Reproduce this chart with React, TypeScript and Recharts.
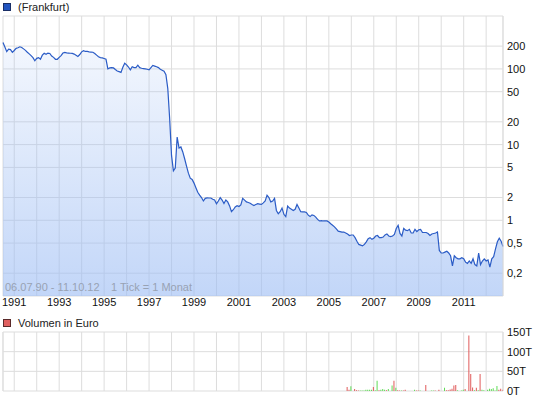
import React from 'react';
import { ComposedChart, Area, Bar, Cell, XAxis, YAxis, CartesianGrid, ReferenceLine } from 'recharts';

// Monthly closing prices (Frankfurt), July 1990 .. October 2012
const prices: number[] = [
  224, 195, 169, 182, 180, 166, 175, 187, 190, 196, 192, 184,
  176, 166, 158, 150, 141, 128, 138, 141, 134, 152, 161, 156,
  162, 160, 148, 142, 134, 134, 142, 150, 162, 165, 163, 162,
  161, 160, 157, 152, 146, 155, 168, 174, 170, 170, 168, 167,
  166, 160, 152, 145, 141, 140, 137, 134, 100, 103, 104, 103,
  98, 94, 92, 90, 105, 119, 113, 106, 97, 107, 104, 104,
  112, 104, 102, 101, 100, 99, 97, 104, 111, 109, 107, 104,
  99, 96, 93, 84, 55, 22, 7.2, 4.5, 4.9, 12.6, 9, 9.3,
  8, 6.5, 5.2, 4.2, 3.6, 3.46, 3.1, 2.7, 2.35, 2.15, 2.0, 1.8,
  1.95, 1.98, 1.97, 1.97, 1.9, 1.85, 1.65, 1.8, 1.99, 1.85, 1.67, 1.85,
  1.75, 1.55, 1.3, 1.38, 1.5, 1.56, 1.52, 1.6, 1.95, 1.85, 1.75, 1.72,
  1.68, 1.62, 1.57, 1.62, 1.66, 1.64, 1.62, 1.7, 1.8, 2.15, 2.0, 1.75,
  1.8, 1.95, 1.35, 1.22, 1.3, 1.45, 1.2, 1.12, 1.54, 1.45, 1.4, 1.35,
  1.4, 1.62, 1.45, 1.3, 1.29, 1.29, 1.27, 1.17, 1.12, 1.18, 1.16, 1.1,
  1.03, 0.98, 0.99, 0.98, 0.98, 0.98, 0.95, 0.9, 0.86, 0.82, 0.77, 0.72,
  0.71, 0.7, 0.7, 0.68, 0.66, 0.63, 0.64, 0.64, 0.59, 0.53, 0.48, 0.47,
  0.46, 0.48, 0.52, 0.57, 0.59, 0.56, 0.58, 0.62, 0.63, 0.59, 0.59, 0.6,
  0.64, 0.66, 0.62, 0.61, 0.62, 0.65, 0.78, 0.86, 0.67, 0.62, 0.78, 0.74,
  0.73, 0.76, 0.68, 0.68, 0.76, 0.71, 0.75, 0.76, 0.69, 0.69, 0.69, 0.67,
  0.63, 0.66, 0.67, 0.68, 0.7, 0.4, 0.37, 0.37, 0.38, 0.39, 0.37, 0.34,
  0.25, 0.34, 0.32, 0.31, 0.31, 0.32, 0.31, 0.28, 0.27, 0.29, 0.27, 0.31,
  0.26, 0.25, 0.37, 0.26, 0.29, 0.31, 0.29, 0.3, 0.24, 0.31, 0.33, 0.42,
  0.52, 0.58, 0.53, 0.45,
];

const startYear = 1990;
const startMonth = 7;

// Volume (thousand euro), monthly, starting at month index volumeStart
const volumeStart = 184;
const volumes: number[] = [
  10, 3, 12, 0, 5, 2, 1, 1, 1, 1, 3, 3, 3, 3, 10, 2, 26, 2, 3, 5, 3, 2, 5, 0,
  14, 26, 8, 2, 1, 1, 1, 3, 0, 0, 0, 0, 3, 1, 1, 1, 0, 0, 15, 0, 0, 1, 1, 1,
  0, 3, 0, 0, 8, 2, 2, 4, 6, 14, 15, 2, 0, 1, 3, 5, 0, 141, 43, 9, 2, 8, 2, 43,
  3, 2, 0, 3, 6, 5, 7, 1, 13, 3, 6, 3,
];
// R = price down (red), G = price up (green)
const volumeDir = 'RRG-RRRGGGGGGGRGGRGGGRG-GRGRRGRR----GRRG--R--GGR-R--GRRRRRRG-GGR-RRRGRGRGG-GGGGGGRRR';

const gridYears: number[] = [
  1991, 1992, 1993, 1994, 1995, 1996, 1997, 1998, 1999, 2000, 2001,
  2002, 2003, 2004, 2005, 2006, 2007, 2008, 2009, 2010, 2011, 2012,
];
const labeledYears: number[] = [1991, 1993, 1995, 1997, 1999, 2001, 2003, 2005, 2007, 2009, 2011];

const priceTicks: number[] = [0.2, 0.5, 1, 2, 5, 10, 20, 50, 100, 200];
const volumeTicks: number[] = [0, 50, 100, 150];

const legendPrice = '(Frankfurt)';
const legendVolume = 'Volumen in Euro';
const rangeText = '06.07.90 - 11.10.12';
const tickText = '1 Tick = 1 Monat';

const monthIndex = (year: number) => (year - startYear) * 12 + (1 - startMonth);
const xTicks = gridYears.map(monthIndex);
const lastIndex = prices.length - 1;

const priceData = prices.map((p, i) => ({ t: i, price: p }));
const volumeData = volumes.map((v, k) => ({ t: volumeStart + k, vol: v, dir: volumeDir[k] }));

const FONT = '"Liberation Sans", Arial, sans-serif';
const GRID = '#dddddd';

const xTickFormatter = (v: number) => {
  const year = gridYears[xTicks.indexOf(v)];
  return labeledYears.includes(year) ? String(year) : '';
};

export default function App() {
  return (
    <div style={{ position: 'absolute', left: 0, top: 0, width: 545, height: 401, background: '#fff', fontFamily: FONT }}>
      <div style={{ position: 'absolute', left: 0, top: 0 }}>
        <ComposedChart width={545} height={320} data={priceData} margin={{ top: 16, right: 0, bottom: 0, left: 3 }}>
          <defs>
            <linearGradient id="priceFill" x1="0" y1="0" x2="0" y2="1">
              <stop offset="0%" stopColor="#9dbdf4" stopOpacity={0.12} />
              <stop offset="100%" stopColor="#9dbdf4" stopOpacity={0.62} />
            </linearGradient>
          </defs>
          <CartesianGrid stroke={GRID} strokeWidth={1} />
          <XAxis
            dataKey="t"
            type="number"
            domain={[0, lastIndex]}
            ticks={xTicks}
            interval={0}
            tickFormatter={xTickFormatter}
            axisLine={false}
            tickLine={false}
            tickSize={0}
            tickMargin={2}
            height={24}
            tick={{ fill: '#111', fontSize: 11, fontFamily: FONT }}
          />
          <YAxis
            orientation="right"
            scale="log"
            domain={[0.1, 500]}
            allowDataOverflow
            ticks={priceTicks}
            interval={0}
            tickFormatter={(v: number) => String(v).replace('.', ',')}
            width={42}
            axisLine={{ stroke: GRID }}
            tickLine={false}
            tickSize={0}
            tickMargin={4}
            tick={{ fill: '#111', fontSize: 11, fontFamily: FONT, textAnchor: 'start' }}
          />
          <Area
            type="linear"
            dataKey="price"
            stroke="#2b5cc6"
            strokeWidth={1.2}
            fill="url(#priceFill)"
            fillOpacity={1}
            dot={false}
            activeDot={false}
            isAnimationActive={false}
          />
        </ComposedChart>
      </div>
      <div style={{ position: 'absolute', left: 0, top: 320 }}>
        <ComposedChart width={545} height={81} data={volumeData} margin={{ top: 12, right: 0, bottom: 10, left: 3 }}>
          <CartesianGrid stroke={GRID} strokeWidth={1} />
          <XAxis dataKey="t" type="number" domain={[0, lastIndex]} ticks={xTicks} interval={0} hide />
          <YAxis
            orientation="right"
            domain={[0, 150]}
            ticks={volumeTicks}
            interval={0}
            tickFormatter={(v: number) => `${v}T`}
            width={42}
            axisLine={{ stroke: GRID }}
            tickLine={false}
            tickSize={0}
            tickMargin={4}
            tick={{ fill: '#111', fontSize: 11, fontFamily: FONT, textAnchor: 'start' }}
          />
          <ReferenceLine x={0} stroke={GRID} />
          <Bar dataKey="vol" barSize={1} isAnimationActive={false}>
            {volumeData.map((d) => (
              <Cell key={d.t} fill={d.dir === 'G' ? '#5fdc55' : '#e05a5a'} />
            ))}
          </Bar>
        </ComposedChart>
      </div>
      <svg width={545} height={401} style={{ position: 'absolute', left: 0, top: 0, pointerEvents: 'none' }}>
        <rect x={3.5} y={3.5} width={7} height={7} fill="#2255c0" stroke="#1a2f66" strokeWidth={1} />
        <text x={18} y={11} fontSize={11} fontFamily={FONT} fill="#222">{legendPrice}</text>
        <rect x={3.5} y={319.5} width={7} height={7} fill="#e06060" stroke="#5a2a2a" strokeWidth={1} />
        <text x={18} y={327} fontSize={11} fontFamily={FONT} fill="#222">{legendVolume}</text>
        <text x={5} y={291} fontSize={11} fontFamily={FONT} fill="#98a2b3">{rangeText}</text>
        <text x={111} y={291} fontSize={11} fontFamily={FONT} fill="#98a2b3">{tickText}</text>
      </svg>
    </div>
  );
}
